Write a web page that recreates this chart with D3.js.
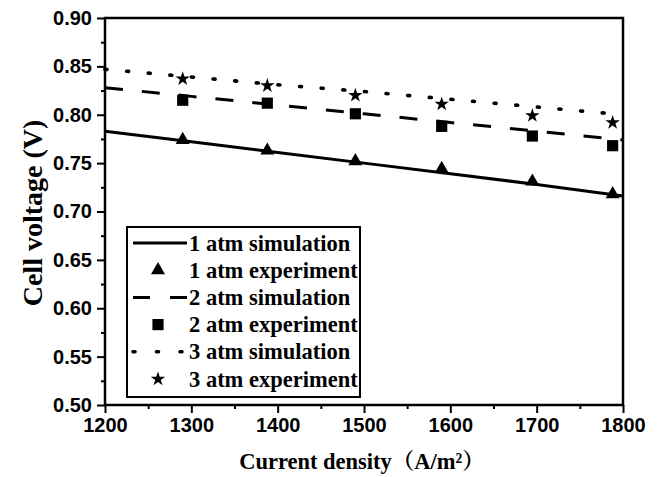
<!DOCTYPE html>
<html>
<head>
<meta charset="utf-8">
<script src="https://cdn.jsdelivr.net/npm/d3@7"></script>
<style>
  html, body { margin: 0; padding: 0; background: #fff; }
  svg { display: block; }
</style>
</head>
<body>
<svg id="chart" width="662" height="477"></svg>
<script>
// ---- data ----
const expX = [1290, 1388, 1490, 1590, 1695, 1788];
const exp1 = [0.774, 0.763, 0.752, 0.744, 0.731, 0.718];
const exp2 = [0.815, 0.812, 0.801, 0.788, 0.778, 0.768];
const exp3 = [0.837, 0.830, 0.820, 0.811, 0.799, 0.792];
const simX = [1200, 1300, 1400, 1500, 1600, 1700, 1800];
const sim1 = [0.783, 0.772, 0.761, 0.750, 0.739, 0.728, 0.716];
const sim2 = [0.828, 0.819, 0.810, 0.801, 0.792, 0.783, 0.774];
const sim3 = [0.847, 0.839, 0.831, 0.824, 0.816, 0.808, 0.800];
const xTicks = [1200, 1300, 1400, 1500, 1600, 1700, 1800];
const yTicks = [0.50, 0.55, 0.60, 0.65, 0.70, 0.75, 0.80, 0.85, 0.90];
const legendLabels = ["1 atm simulation", "1 atm experiment", "2 atm simulation",
                      "2 atm experiment", "3 atm simulation", "3 atm experiment"];
const xTitle = "Current density\uFF08A/m\u00B2\uFF09";
const yTitle = "Cell voltage (V)";

// ---- layout ----
const L = 105, R = 623, T = 18, B = 405;
const svg = d3.select("#chart");
const x = d3.scaleLinear().domain([1200, 1800]).range([L, R]);
const y = d3.scaleLinear().domain([0.5, 0.9]).range([B, T]);

const tickFont = "'Liberation Sans', Arial, sans-serif";
const serif = "'Liberation Serif', 'Times New Roman', 'Noto Serif CJK SC', 'Noto Sans CJK SC', serif";

// minor ticks
const xMinor = d3.range(1250, 1800, 100);
const yMinor = d3.range(0.525, 0.9, 0.05);

const gx = svg.append("g").attr("transform", `translate(0,${B})`);
gx.call(d3.axisBottom(x).tickValues(xMinor).tickSize(4).tickFormat(""));
gx.call(g => g.selectAll(".domain").remove());
const gx2 = svg.append("g").attr("transform", `translate(0,${B})`)
  .call(d3.axisBottom(x).tickValues(xTicks).tickSize(8).tickPadding(5).tickFormat(d3.format("d")));
gx2.select(".domain").remove();

const gy = svg.append("g").attr("transform", `translate(${L},0)`);
gy.call(d3.axisLeft(y).tickValues(yMinor).tickSize(4).tickFormat(""));
gy.call(g => g.selectAll(".domain").remove());
const gy2 = svg.append("g").attr("transform", `translate(${L},0)`)
  .call(d3.axisLeft(y).tickValues(yTicks).tickSize(8).tickPadding(5).tickFormat(d3.format(".2f")));
gy2.select(".domain").remove();

svg.selectAll(".tick line").attr("stroke", "#000").attr("stroke-width", 2);
svg.selectAll(".tick text")
  .attr("fill", "#000")
  .style("font-family", tickFont)
  .style("font-weight", "bold")
  .style("font-size", "20px");

// frame
svg.append("rect")
  .attr("x", L).attr("y", T).attr("width", R - L).attr("height", B - T)
  .attr("fill", "none").attr("stroke", "#000").attr("stroke-width", 2.5);

// lines
const line = d3.line().x(d => x(d[0])).y(d => y(d[1]));
const styles = [
  { dash: null, cap: "butt", w: 3 },
  { dash: "18,19", cap: "butt", w: 3 },
  { dash: "2,19.7", cap: "round", w: 3.6 }
];
const sims = [sim1, sim2, sim3];
sims.forEach((s, i) => {
  svg.append("path")
    .datum(simX.map((v, j) => [v, s[j]]))
    .attr("d", line)
    .attr("fill", "none")
    .attr("stroke", "#000")
    .attr("stroke-width", styles[i].w)
    .attr("stroke-linecap", styles[i].cap)
    .attr("stroke-dasharray", styles[i].dash);
});

// markers
const symbols = [
  d3.symbol().type(d3.symbolTriangle).size(85),
  d3.symbol().type(d3.symbolSquare).size(125),
  d3.symbol().type(d3.symbolStar).size(65)
];
const exps = [exp1, exp2, exp3];
exps.forEach((s, i) => {
  svg.append("g").selectAll("path")
    .data(expX.map((v, j) => [v, s[j]]))
    .join("path")
    .attr("transform", d => `translate(${x(d[0])},${y(d[1])})`)
    .attr("d", symbols[i])
    .attr("fill", "#000");
});

// legend
const lg = svg.append("g");
lg.append("rect")
  .attr("x", 127).attr("y", 227).attr("width", 233).attr("height", 170)
  .attr("fill", "#fff").attr("stroke", "#000").attr("stroke-width", 2);
const rowY = i => 243 + i * 27.2;
legendLabels.forEach((lab, i) => {
  const cy = rowY(i);
  const k = Math.floor(i / 2);
  if (i % 2 === 0) {
    lg.append("line")
      .attr("x1", 133).attr("x2", 187).attr("y1", cy).attr("y2", cy)
      .attr("stroke", "#000").attr("stroke-width", styles[k].w)
      .attr("stroke-linecap", styles[k].cap)
      .attr("stroke-dasharray", k === 1 ? "17,20" : (k === 2 ? "2,21.5" : null));
  } else {
    lg.append("path")
      .attr("transform", `translate(158,${cy})`)
      .attr("d", symbols[k])
      .attr("fill", "#000");
  }
  lg.append("text")
    .attr("x", 189).attr("y", cy + 7.5)
    .style("font-family", serif)
    .style("font-weight", "bold")
    .style("font-size", "22.5px")
    .text(lab);
});

// axis titles
svg.append("text")
  .attr("x", (L + R) / 2 - 2).attr("y", 469)
  .attr("text-anchor", "middle")
  .style("font-family", serif)
  .style("font-weight", "bold")
  .style("font-size", "22.5px")
  .text(xTitle);

svg.append("text")
  .attr("transform", `translate(42,213) rotate(-90)`)
  .attr("text-anchor", "middle")
  .style("font-family", serif)
  .style("font-weight", "bold")
  .style("font-size", "28px")
  .text(yTitle);
</script>
</body>
</html>
